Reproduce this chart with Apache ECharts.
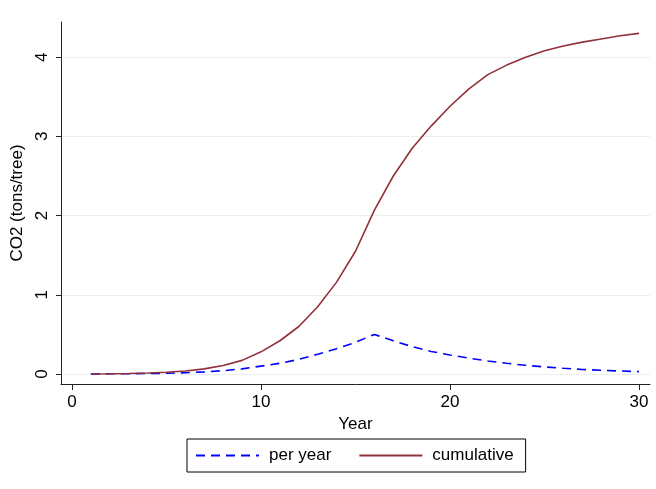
<!DOCTYPE html>
<html>
<head>
<meta charset="utf-8">
<script src="https://cdn.jsdelivr.net/npm/echarts@6/dist/echarts.min.js"></script>
<style>
  html, body { margin: 0; padding: 0; background: #fff; }
  #chart { width: 656px; height: 489px; }
</style>
</head>
<body>
<div id="chart"></div>
<script>
// Tree carbon uptake over a 30-year horizon
const years = [1, 2, 3, 4, 5, 6, 7, 8, 9, 10, 11, 12, 13, 14, 15,
               16, 17, 18, 19, 20, 21, 22, 23, 24, 25, 26, 27, 28, 29, 30];
const perYear = [0, 0.003, 0.004, 0.006, 0.009, 0.016, 0.027, 0.042, 0.065, 0.10,
                 0.135, 0.185, 0.25, 0.32, 0.40, 0.50, 0.42, 0.345, 0.285, 0.24,
                 0.20, 0.165, 0.135, 0.11, 0.09, 0.072, 0.057, 0.047, 0.038, 0.03];
const cumulative = [0, 0.003, 0.007, 0.013, 0.022, 0.038, 0.065, 0.107, 0.172, 0.28,
                    0.42, 0.60, 0.85, 1.16, 1.55, 2.07, 2.50, 2.85, 3.13, 3.38,
                    3.60, 3.78, 3.90, 4.00, 4.08, 4.14, 4.19, 4.23, 4.27, 4.30];
const xTicks = [0, 10, 20, 30];
const yTicks = [0, 1, 2, 3, 4];
const seriesNames = ['per year', 'cumulative'];

const FONT = '"Liberation Sans", Arial, Helvetica, sans-serif';
const pairs = (ys) => years.map((x, i) => [x, ys[i]]);

const chart = echarts.init(document.getElementById('chart'), null, { renderer: 'canvas' });
chart.setOption({
  animation: false,
  backgroundColor: '#ffffff',
  textStyle: { fontFamily: FONT },
  grid: { left: 61, right: 6, top: 22, bottom: 105, containLabel: false },
  xAxis: {
    type: 'value',
    min: -0.58,
    max: 30.58,
    name: 'Year',
    nameLocation: 'middle',
    nameGap: 29,
    nameTextStyle: { fontFamily: FONT, fontSize: 17, color: '#000' },
    axisLine: { show: true, onZero: false, lineStyle: { color: '#222', width: 1 } },
    axisTick: { show: true, length: 6, lineStyle: { color: '#222' }, customValues: xTicks },
    axisLabel: { fontFamily: FONT, fontSize: 17, color: '#000', margin: 10, customValues: xTicks },
    splitLine: { show: false }
  },
  yAxis: {
    type: 'value',
    min: -0.126,
    max: 4.444,
    name: 'CO2 (tons/tree)',
    nameLocation: 'middle',
    nameGap: 31,
    nameRotate: 90,
    nameTextStyle: { fontFamily: FONT, fontSize: 17, color: '#000' },
    axisLine: { show: true, onZero: false, lineStyle: { color: '#222', width: 1 } },
    axisTick: { show: true, length: 5, lineStyle: { color: '#222' }, customValues: yTicks },
    axisLabel: { fontFamily: FONT, fontSize: 17, color: '#000', margin: 10, rotate: 90, customValues: yTicks },
    splitLine: { show: true, lineStyle: { color: '#e8f0f2', width: 1 } }
  },
  legend: {
    left: 187,
    top: 439,
    orient: 'horizontal',
    data: seriesNames,
    borderColor: '#000',
    borderWidth: 1,
    padding: [8, 12, 8, 8],
    itemWidth: 63,
    itemHeight: 14,
    itemGap: 27,
    itemStyle: { opacity: 0 },
    textStyle: { fontFamily: FONT, fontSize: 17, color: '#000', padding: [0, 0, 0, 5] }
  },
  series: [
    {
      name: seriesNames[0],
      type: 'line',
      data: pairs(perYear),
      symbol: 'none',
      smooth: false,
      lineStyle: { color: '#0000ff', width: 1.6, type: [9, 6] },
      itemStyle: { color: '#0000ff' }
    },
    {
      name: seriesNames[1],
      type: 'line',
      data: pairs(cumulative),
      symbol: 'none',
      smooth: false,
      lineStyle: { color: '#913139', width: 1.6 },
      itemStyle: { color: '#913139' }
    }
  ]
});
</script>
</body>
</html>
